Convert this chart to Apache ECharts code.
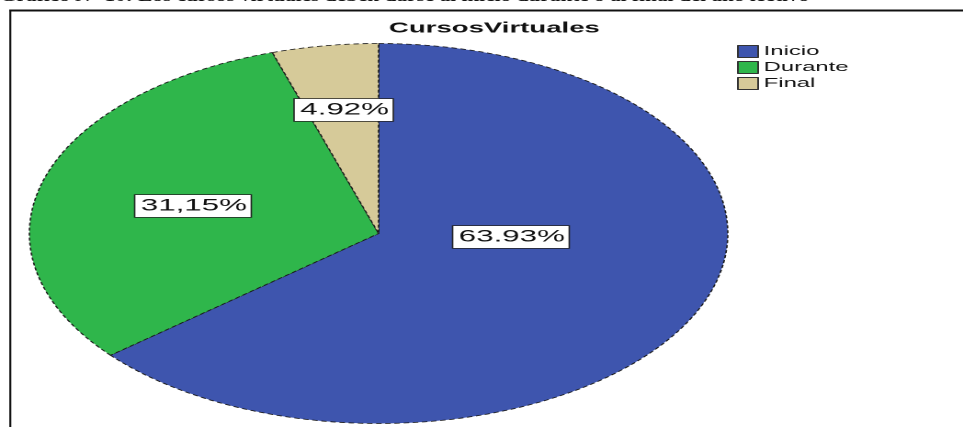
<!DOCTYPE html>
<html>
<head>
<meta charset="utf-8">
<script src="https://cdn.jsdelivr.net/npm/echarts@6/dist/echarts.min.js"></script>
<style>
    html, body { margin: 0; padding: 0; background: #fff; overflow: hidden; }
    /* the source figure is a stretched image: draw narrow, then stretch horizontally */
    #chart {
        width: 524px;
        height: 427px;
        transform: scaleX(1.8378);
        transform-origin: 0 0;
    }
</style>
</head>
<body>
<div id="chart"></div>
<script>
const categories = ["Inicio", "Durante", "Final"];
const percentValues = [63.93, 31.15, 4.92];
const labelTexts = ["63.93%", "31,15%", "4.92%"];
const sliceColors = ["#3e55ae", "#2fb64b", "#d6ca99"];

// label anchor points (unscaled px)
const labelSpots = [[278, 237], [105, 206], [187, 110]];

const chart = echarts.init(document.getElementById("chart"), null, {
    renderer: "canvas",
    devicePixelRatio: 2
});

chart.setOption({
    animation: false,
    backgroundColor: "#fff",
    title: {
        text: "CursosVirtuales",
        left: 269,
        top: 21,
        padding: 0,
        textAlign: "center",
        textStyle: {
            fontFamily: "Liberation Sans, Arial, sans-serif",
            fontSize: 15,
            fontWeight: "bold",
            color: "#111"
        }
    },
    legend: {
        orient: "vertical",
        left: 401,
        top: 45,
        padding: 0,
        itemWidth: 11,
        itemHeight: 12,
        itemGap: 3,
        icon: "rect",
        selectedMode: false,
        data: categories,
        itemStyle: { borderColor: "#333", borderWidth: 1 },
        textStyle: {
            fontFamily: "Liberation Sans, Arial, sans-serif",
            fontSize: 13,
            color: "#111",
            padding: [0, 0, 0, -2]
        }
    },
    graphic: [
        {
            type: "text",
            x: 0,
            y: -11,
            scaleX: 0.725,
            style: {
                verticalAlign: "top",
                text: "Gráfico N° 10: Los cursos virtuales deben darse al inicio durante o al final del año lectivo",
                font: "bold 16px 'Liberation Serif', 'Times New Roman', serif",
                fill: "#111"
            }
        },
        {
            type: "line",
            shape: { x1: 5, y1: 10.5, x2: 524, y2: 10.5 },
            style: { stroke: "#111", lineWidth: 2 }
        },
        {
            type: "line",
            shape: { x1: 5.6, y1: 10, x2: 5.6, y2: 427 },
            style: { stroke: "#111", lineWidth: 1.1 }
        }
    ],
    series: [{
        type: "pie",
        center: [206, 233.5],
        radius: 190,
        startAngle: 90,
        clockwise: true,
        silent: true,
        data: categories.map((name, i) => ({
            name: name,
            value: percentValues[i],
            itemStyle: { color: sliceColors[i] }
        })),
        itemStyle: {
            borderColor: "#1a1a1a",
            borderWidth: 0.8,
            borderType: [3, 2]
        },
        label: {
            show: true,
            position: "inside",
            formatter: p => labelTexts[p.dataIndex],
            fontFamily: "Liberation Sans, Arial, sans-serif",
            fontSize: 17,
            color: "#111",
            backgroundColor: "#fff",
            borderColor: "#222",
            borderWidth: 0.8,
            padding: [3, 2, 2, 3]
        },
        labelLine: { show: false },
        labelLayout: p => ({
            x: labelSpots[p.dataIndex][0],
            y: labelSpots[p.dataIndex][1],
            align: "center",
            verticalAlign: "middle"
        }),
        emphasis: { disabled: true }
    }]
});
</script>
</body>
</html>
